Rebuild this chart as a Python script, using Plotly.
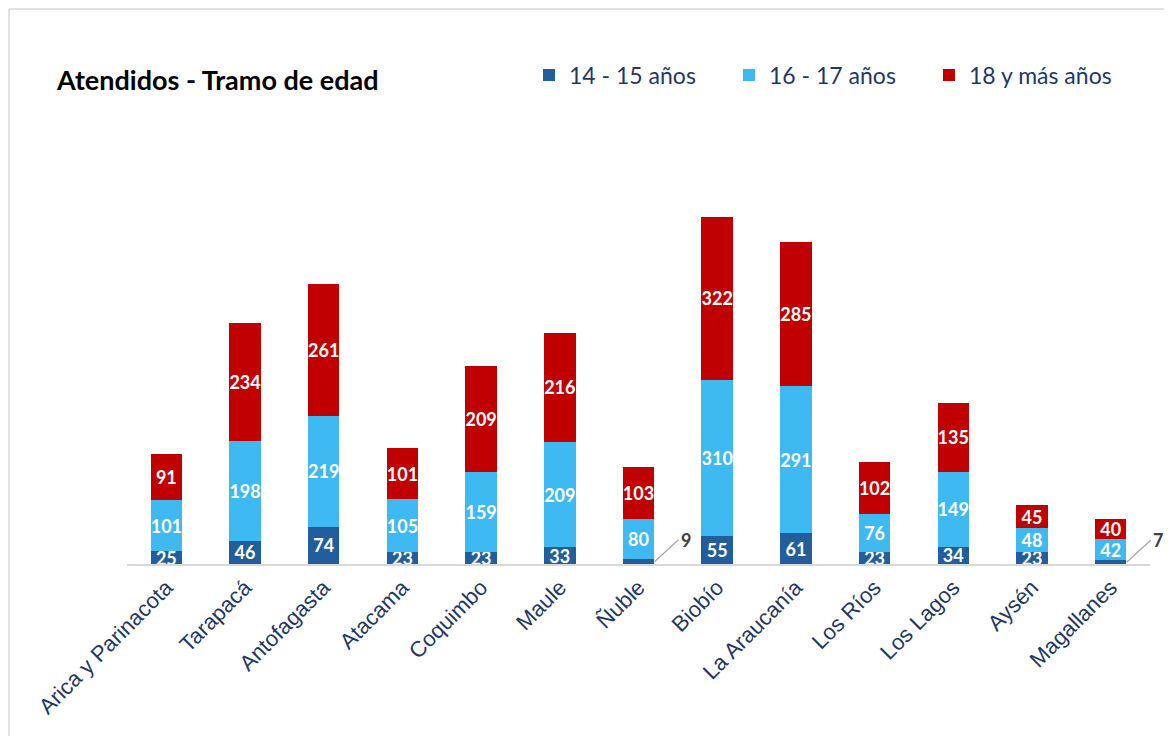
import plotly.graph_objects as go

regiones = [
    "Arica y Parinacota", "Tarapacá", "Antofagasta", "Atacama", "Coquimbo",
    "Maule", "Ñuble", "Biobío", "La Araucanía", "Los Ríos", "Los Lagos",
    "Aysén", "Magallanes",
]
edad_14_15 = [25, 46, 74, 23, 23, 33, 9, 55, 61, 23, 34, 23, 7]
edad_16_17 = [101, 198, 219, 105, 159, 209, 80, 310, 291, 76, 149, 48, 42]
edad_18_mas = [91, 234, 261, 101, 209, 216, 103, 322, 285, 102, 135, 45, 40]

series = [
    ("14 - 15 años", edad_14_15, "#235E9C"),
    ("16 - 17 años", edad_16_17, "#3FB9F2"),
    ("18 y más años", edad_18_mas, "#C00000"),
]

NAVY = "#1F3864"
fig = go.Figure()

for name, vals, color in series:
    # tiny segments get an outside callout instead
    labels = [str(v) if v >= 10 else "" for v in vals]
    fig.add_trace(
        go.Bar(
            x=regiones,
            y=vals,
            name=name,
            marker=dict(color=color, line=dict(width=0)),
            text=labels,
            textposition="inside",
            insidetextanchor="middle",
            textfont=dict(family="Lato", size=18, color="white", weight="bold"),
            textangle=0,
            cliponaxis=False,
        )
    )

# callouts for the small values
for reg, v in zip(regiones, edad_14_15):
    if v < 10:
        fig.add_annotation(
            x=reg, y=v / 2, xshift=16, text=f"<b>{v}</b>",
            showarrow=True, arrowhead=0, arrowwidth=1.2, arrowcolor="#A6A6A6",
            ax=24, ay=-22, xanchor="left",
            font=dict(family="Lato", size=18, color="#404040"),
        )

# chart frame (left and top edges)
fig.add_shape(type="line", xref="paper", yref="paper", x0=-0.1153, x1=-0.1153,
              y0=-0.5, y1=1.2788, line=dict(color="#D9D9D9", width=1.5))
fig.add_shape(type="line", xref="paper", yref="paper", x0=-0.1153, x1=1.1,
              y0=1.2788, y1=1.2788, line=dict(color="#D9D9D9", width=1.5))

fig.update_layout(
    width=1164,
    height=728,
    barmode="stack",
    bargap=0.6,
    plot_bgcolor="white",
    paper_bgcolor="white",
    margin=dict(l=119, r=22, t=122, b=172),
    title=dict(
        text="<b>Atendidos - Tramo de edad</b>",
        x=0.0421, xanchor="left", xref="container",
        y=0.901, yanchor="middle",
        font=dict(family="Lato", size=27, color="black"),
    ),
    legend=dict(
        orientation="h",
        xref="container", yref="container",
        x=0.4476, xanchor="left",
        y=0.908, yanchor="middle",
        entrywidth=155, entrywidthmode="pixels",
        font=dict(family="Lato", size=23, color=NAVY),
        traceorder="normal",
    ),
    uniformtext=dict(minsize=18, mode="show"),
    showlegend=True,
)
fig.update_xaxes(
    range=[-0.5, len(regiones) - 0.5],
    tickangle=-45,
    tickfont=dict(family="Liberation Sans", size=22, color=NAVY),
    showline=True, linecolor="#D9D9D9", linewidth=2,
    showgrid=False, ticks="", automargin=False,
)
fig.update_yaxes(range=[0, 859], visible=False, showgrid=False)

fig.write_html("out.html")
